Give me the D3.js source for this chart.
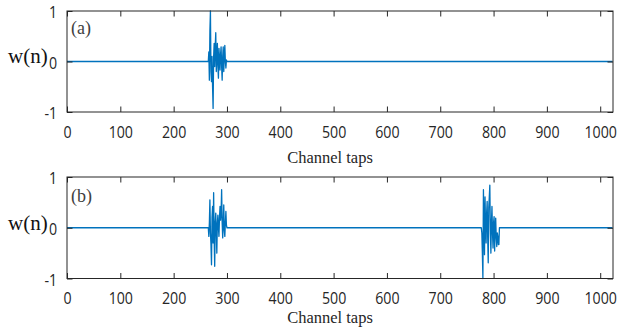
<!DOCTYPE html>
<html>
<head>
<meta charset="utf-8">
<script src="https://cdn.jsdelivr.net/npm/d3@7"></script>
<style>
  html, body { margin: 0; padding: 0; background: #fff; }
  svg { display: block; }
  .tick text { font-family: "Open Sans", sans-serif; font-size: 16.5px; fill: #262626; }
  .domain { display: none; }
  .tick line { stroke: #262626; stroke-width: 1; }
</style>
</head>
<body>
<svg id="chart" width="617" height="329"></svg>
<script>
// x ticks and y ticks
const xTicks = [0, 100, 200, 300, 400, 500, 600, 700, 800, 900, 1000];
const yTicks = [-1, 0, 1];
const tapCount = 1024;

// panel (a): one cluster of non-zero taps
const clusterA = { start: 265, values: [
  0, 0.19, -0.37, 0.6, 1.0, -0.2, -0.4, 0.1, -0.5, -0.93, 0.1, 0.36, -0.1, 0.3, 0.57,
  -0.2, 0.1, 0.36, -0.1, -0.33, 0.26, 0.05, -0.17, 0.15, 0.29, -0.1, -0.37, 0.1, 0.29,
  -0.2, 0.1, 0.32, 0, -0.13, 0.03, 0,
] };

// panel (b): two clusters
const clusterB1 = { start: 265, values: [
  0, -0.17, 0.1, 0.55, -0.1, -0.33, -0.73, 0.2, 0.42, -0.3, 0.69, -0.2, -0.76, 0.1, 0.29,
  -0.1, -0.5, 0.1, 0.25, 0, -0.17, 0.2, 0.42, 0.15, 0.3, 0.75, 0.1, -0.2, 0.1, 0.45,
  -0.05, -0.17, 0.1, 0.32, 0.05, 0,
] };
const clusterB2 = { start: 777, values: [
  0, -0.1, -0.5, -1.0, 0.75, 0.1, -0.53, 0.61, 0, -0.3, 0.3, 0.52, -0.2, -0.69, 0.4, 0.6,
  0.84, -0.1, -0.5, 0.1, 0.42, -0.1, -0.4, 0.1, 0.22, -0.46, 0, 0.19, -0.2, -0.37, -0.1,
  -0.17, -0.33, -0.33, 0, 0,
] };

const panels = [
  { label: '(a)', clusters: [clusterA], top: 11, bottom: 112, labelY: 34, wY: 63, tapsY: 163 },
  { label: '(b)', clusters: [clusterB1, clusterB2], top: 177, bottom: 278.5, labelY: 202, wY: 230, tapsY: 323 },
];

const svg = d3.select('#chart');
const left = 67;
const right = 613;
const x = d3.scaleLinear().domain([0, tapCount]).range([left, right]);
const narrow = 'scale(0.86,1)';
const plain = (d) => String(d);

function pointsOf(clusters) {
  const pts = [[0, 0]];
  clusters.forEach((c) => c.values.forEach((v, i) => pts.push([c.start + i, v])));
  pts.push([tapCount - 1, 0]);
  return pts;
}

panels.forEach((p) => {
  const y = d3.scaleLinear().domain([-1, 1]).range([p.bottom, p.top]);
  const g = svg.append('g');

  // data line
  g.append('path')
    .datum(pointsOf(p.clusters))
    .attr('fill', 'none')
    .attr('stroke', '#0072BD')
    .attr('stroke-width', 1.3)
    .attr('stroke-linejoin', 'round')
    .attr('d', d3.line().x((d) => x(d[0])).y((d) => y(d[1])));

  // bottom axis with labels
  const bottomAxis = g.append('g')
    .attr('transform', `translate(0,${p.bottom})`)
    .call(d3.axisBottom(x).tickValues(xTicks).tickFormat(plain)
      .tickSizeInner(-5.5).tickSizeOuter(0).tickPadding(14));
  bottomAxis.selectAll('text').attr('transform', narrow).attr('dy', '0.71em');

  g.append('g')
    .attr('transform', `translate(0,${p.top})`)
    .call(d3.axisTop(x).tickValues(xTicks).tickSizeInner(-5.5).tickSizeOuter(0).tickFormat(''));

  const leftAxis = g.append('g')
    .attr('transform', `translate(${left},0)`)
    .call(d3.axisLeft(y).tickValues(yTicks).tickFormat(plain)
      .tickSizeInner(-5.5).tickSizeOuter(0).tickPadding(11.5));
  leftAxis.selectAll('text').attr('transform', narrow).attr('dy', '0.4em');

  g.append('g')
    .attr('transform', `translate(${right},0)`)
    .call(d3.axisRight(y).tickValues(yTicks).tickSizeInner(-5.5).tickSizeOuter(0).tickFormat(''));

  // box
  g.append('rect')
    .attr('x', left).attr('y', p.top)
    .attr('width', right - left).attr('height', p.bottom - p.top)
    .attr('fill', 'none').attr('stroke', '#262626').attr('stroke-width', 1);

  g.append('text')
    .attr('x', 71).attr('y', p.labelY)
    .attr('font-family', '"Liberation Serif", "Times New Roman", serif')
    .attr('font-size', 18).attr('fill', '#404040')
    .text(p.label);

  g.append('text')
    .attr('x', 8).attr('y', p.wY)
    .attr('font-family', '"Liberation Serif", "Times New Roman", serif')
    .attr('font-size', 21).attr('fill', '#111')
    .text('w(n)');

  g.append('text')
    .attr('x', 330).attr('y', p.tapsY)
    .attr('text-anchor', 'middle')
    .attr('font-family', '"Liberation Serif", "Times New Roman", serif')
    .attr('font-size', 16.5).attr('fill', '#262626')
    .text('Channel taps');
});
</script>
</body>
</html>
